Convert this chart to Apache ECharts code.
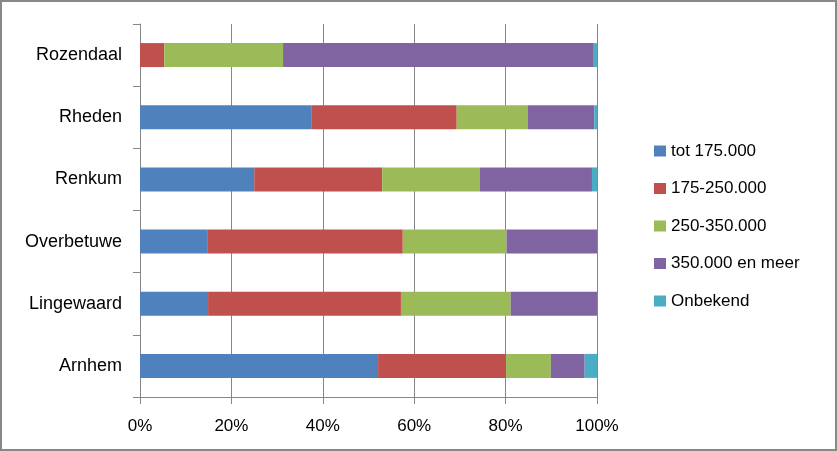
<!DOCTYPE html>
<html>
<head>
<meta charset="utf-8">
<script src="https://cdn.jsdelivr.net/npm/echarts@6/dist/echarts.min.js"></script>
<style>
html,body{margin:0;padding:0;background:#fff;}
#wrap{position:relative;width:837px;height:451px;}
#chart{position:absolute;left:0;top:0;width:837px;height:451px;}
#frame{position:absolute;left:0;top:0;width:837px;height:451px;box-sizing:border-box;border:2px solid #888;pointer-events:none;}
</style>
</head>
<body>
<div id="wrap"><div id="chart"></div><div id="frame"></div></div>
<script>
const categories = ['Arnhem', 'Lingewaard', 'Overbetuwe', 'Renkum', 'Rheden', 'Rozendaal'];
const seriesNames = ['tot 175.000', '175-250.000', '250-350.000', '350.000 en meer', 'Onbekend'];
const tot175 = [52.1, 14.9, 14.7, 25.0, 37.6, 0];
const r175_250 = [28.0, 42.2, 42.8, 28.0, 31.7, 5.3];
const r250_350 = [9.8, 24.0, 22.7, 21.4, 15.5, 26.0];
const r350plus = [7.4, 18.9, 19.8, 24.5, 14.6, 68.0];
const onbekend = [2.7, 0, 0, 1.1, 0.6, 0.7];
const colors = ['#4F81BD', '#C0504D', '#9BBB59', '#8064A2', '#4BACC6'];
const xTicks = [0, 20, 40, 60, 80, 100];

const values = [tot175, r175_250, r250_350, r350plus, onbekend];
const chart = echarts.init(document.getElementById('chart'), null, {renderer: 'canvas'});
const font = 'Liberation Sans';
chart.setOption({
  animation: false,
  backgroundColor: '#fff',
  color: colors,
  grid: {left: 140, right: 240, top: 24, bottom: 54, containLabel: false},
  legend: {
    orient: 'vertical',
    left: 654,
    top: 141,
    padding: 0,
    itemWidth: 12,
    itemHeight: 11,
    itemGap: 17.5,
    icon: 'rect',
    textStyle: {fontFamily: font, fontSize: 17, color: '#000', lineHeight: 20},
    data: seriesNames
  },
  xAxis: {
    type: 'value',
    min: xTicks[0],
    max: xTicks[xTicks.length - 1],
    interval: xTicks[1] - xTicks[0],
    axisLine: {show: true, lineStyle: {color: '#868686', width: 1}},
    axisTick: {show: true, length: 7, lineStyle: {color: '#868686'}},
    axisLabel: {formatter: '{value}%', margin: 21, fontFamily: font, fontSize: 17, color: '#000'},
    splitLine: {show: true, lineStyle: {color: '#868686', width: 1}}
  },
  yAxis: {
    type: 'category',
    data: categories,
    axisLine: {show: true, lineStyle: {color: '#868686', width: 1}},
    axisTick: {show: true, length: 7, lineStyle: {color: '#868686'}},
    axisLabel: {margin: 18, fontFamily: font, fontSize: 18, color: '#000'},
    splitLine: {show: false}
  },
  series: seriesNames.map((name, i) => ({
    name: name,
    type: 'bar',
    stack: 'total',
    barWidth: 24,
    data: values[i],
    itemStyle: {color: colors[i]}
  }))
});
</script>
</body>
</html>
